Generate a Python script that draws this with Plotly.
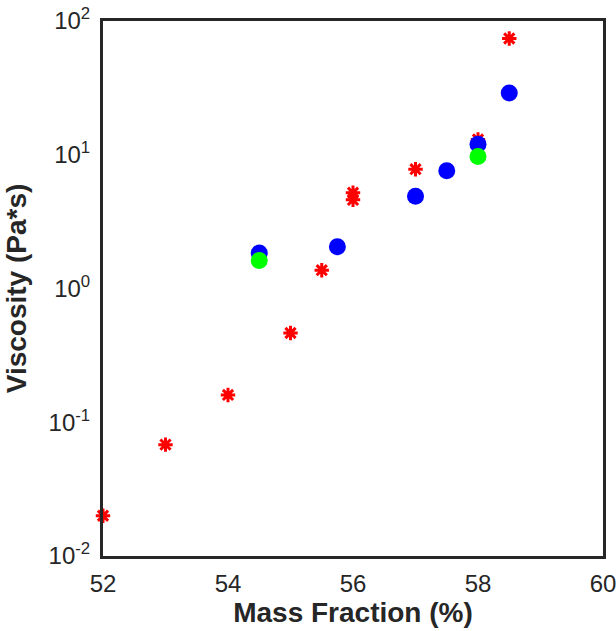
import plotly.graph_objects as go

red_x = [52, 53, 54, 55, 55.5, 56, 56, 57, 58, 58.5]
red_y = [0.02, 0.068, 0.16, 0.465, 1.37, 5.2, 4.6, 7.8, 13.0, 74.0]
blue_x = [54.5, 55.75, 57, 57.5, 58, 58.5]
blue_y = [1.84, 2.05, 4.9, 7.6, 12.0, 29.0]
green_x = [54.5, 58]
green_y = [1.62, 9.7]

x_ticks = [52, 54, 56, 58, 60]
y_ticks = [0.01, 0.1, 1, 10, 100]
y_ticktext = ["10<sup>-2</sup>", "10<sup>-1</sup>", "10<sup>0</sup>", "10<sup>1</sup>", "10<sup>2</sup>"]
y_minor = [m * 10 ** e for e in range(-2, 2) for m in range(2, 10)]

W, H = 616, 631
ML, MR, MT, MB = 103, 13, 21, 75

AX = "#262626"
MAJ, MIN = 8, 5

fig = go.Figure()
fig.add_trace(go.Scatter(x=red_x, y=red_y, mode="markers", cliponaxis=False,
                         marker=dict(symbol="asterisk-open", size=12, color="red",
                                     line=dict(color="red", width=3))))
fig.add_trace(go.Scatter(x=blue_x, y=blue_y, mode="markers", cliponaxis=False,
                         marker=dict(symbol="circle", size=17, color="blue",
                                     line=dict(width=0))))
fig.add_trace(go.Scatter(x=green_x, y=green_y, mode="markers", cliponaxis=False,
                         marker=dict(symbol="circle", size=17, color="#00ff00",
                                     line=dict(width=0))))

FAM = "Liberation Sans, Arial, sans-serif"
tick_font = dict(family=FAM, size=24, color=AX)
title_font = dict(family=FAM, size=28, color=AX)

# helper axes whose "outside" ticks point into the plot frame
def x_tick_axis(side, pos):
    return dict(overlaying="x", side=side, anchor="free", position=pos,
                range=[52, 60], tickmode="array", tickvals=x_ticks,
                ticks="outside", ticklen=MAJ, tickwidth=2.5, tickcolor=AX,
                showticklabels=False, showline=False, showgrid=False,
                zeroline=False, automargin=False, fixedrange=True)

def y_tick_axis(side, pos):
    return dict(overlaying="y", side=side, anchor="free", position=pos,
                type="log", range=[-2, 2], tickmode="array", tickvals=y_ticks,
                ticks="outside", ticklen=MAJ, tickwidth=2.5, tickcolor=AX,
                minor=dict(tickmode="array", tickvals=y_minor, ticks="outside",
                           ticklen=MIN, tickwidth=2, tickcolor=AX, showgrid=False),
                showticklabels=False, showline=False, showgrid=False,
                zeroline=False, automargin=False, fixedrange=True)

fig.update_layout(
    width=W, height=H,
    margin=dict(l=ML, r=MR, t=MT, b=MB),
    paper_bgcolor="white", plot_bgcolor="white",
    showlegend=False,
    font=tick_font,
    xaxis2=x_tick_axis("top", 0),
    xaxis3=x_tick_axis("bottom", 1),
    yaxis2=y_tick_axis("right", 0),
    yaxis3=y_tick_axis("left", 1),
)
fig.update_layout(
    xaxis=dict(
        range=[52, 60], tickmode="array", tickvals=x_ticks, ticks="",
        ticklabeloverflow="allow", ticklabelstandoff=4,
        showline=True, linewidth=3, linecolor=AX, mirror=True, automargin=False,
        showgrid=False, zeroline=False, tickfont=tick_font,
        title=dict(text="<b>Mass Fraction (%)</b>", font=title_font, standoff=4),
    ),
    yaxis=dict(
        type="log", range=[-2, 2], tickmode="array", tickvals=y_ticks, ticktext=y_ticktext,
        ticks="", ticklabeloverflow="allow", ticklabelstandoff=5,
        showline=True, linewidth=3, linecolor=AX, mirror=True, automargin=False,
        showgrid=False, zeroline=False, tickfont=tick_font,
        title=dict(text="<b>Viscosity (Pa*s)</b>", font=title_font, standoff=14),
    ),
)

fig.write_html("out.html", config={"displayModeBar": False},
               post_script="document.body.style.margin='0';document.body.style.overflow='hidden';")
